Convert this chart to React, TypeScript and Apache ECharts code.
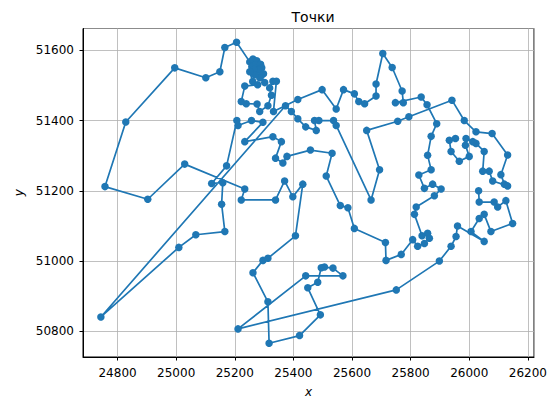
import React, { useEffect, useRef } from "react";
import * as echarts from "echarts";

const title = "Точки";
const xName = "x";
const yName = "y";

// Path of points, in drawing order
const xs = [
  26032, 26034, 26085, 26097, 26125, 26148, 26074, 26051, 26034, 26006,
  26051, 25960, 25955, 25938, 25898, 25751, 25211, 25442, 25569, 25535,
  25506, 25495, 25483, 25449, 25492, 25421, 25317, 25313, 25262, 25296,
  25313, 25407, 25432, 25398, 25370, 25339, 25222, 25234, 25029, 24903,
  24757, 24828, 24995, 25101, 25149, 25166, 25206, 25251, 25262, 25275,
  25258, 25271, 25288, 25292, 25281, 25265, 25298, 25290, 25302, 25285,
  25268, 25251, 25261, 25278, 25234, 25222, 25239, 25276, 25285, 25313,
  25325, 25319, 25330, 25342, 25332, 25415, 25498, 25546, 25571, 25608,
  25623, 25643, 25682, 25682, 25705, 25737, 25771, 25775, 25748, 25836,
  25856, 25889, 25870, 25858, 25870, 25828, 25847, 25875, 25904, 25881,
  25819, 25813, 25839, 25858, 25864, 25847, 25824, 25807, 25768, 25716,
  25714, 25608, 25586, 25560, 25512, 25532, 25458, 25378, 25364, 25339,
  25359, 25330, 25234, 25296, 25257, 25211, 25207, 25172, 25121, 25159,
  25155, 25166, 25067, 25009, 24743, 25373, 25393, 25415, 25442, 25478,
  25472, 25487, 25537, 25546, 25665, 25694, 25650, 25756, 25794, 25941,
  25983, 26023, 26078, 26131, 26108, 26120, 26131, 26080, 26068, 26046,
  26051, 26023, 26012, 25989, 25987, 26000, 25966, 25938, 25932, 25953,
];
const ys = [
  51200, 51168, 51168, 51154, 51172, 51107, 51084, 51133, 51121, 51084,
  51056, 51100, 51070, 51042, 51000, 50918, 50807, 50958, 50958, 50980,
  50983, 50981, 50940, 50924, 50847, 50788, 50766, 50884, 50967, 51002,
  51008, 51072, 51219, 51183, 51228, 51174, 51174, 51205, 51276, 51176,
  51212, 51396, 51550, 51522, 51539, 51608, 51623, 51567, 51575, 51570,
  51553, 51558, 51560, 51550, 51544, 51545, 51533, 51528, 51508, 51522,
  51530, 51539, 51511, 51502, 51498, 51454, 51448, 51447, 51426, 51442,
  51472, 51493, 51512, 51512, 51426, 51460, 51488, 51433, 51488, 51476,
  51454, 51448, 51470, 51504, 51591, 51551, 51484, 51451, 51451, 51467,
  51445, 51391, 51355, 51301, 51260, 51245, 51207, 51219, 51205, 51186,
  51154, 51133, 51072, 51079, 51065, 51050, 51042, 51061, 51019, 51002,
  51053, 51093, 51152, 51158, 51242, 51307, 51316, 51298, 51279, 51293,
  51340, 51354, 51340, 51395, 51400, 51386, 51400, 51271, 51221, 51223,
  51162, 51084, 51075, 51039, 50841, 51442, 51426, 51405, 51382, 51372,
  51400, 51400, 51400, 51386, 51174, 51260, 51372, 51398, 51411, 51458,
  51400, 51368, 51363, 51302, 51246, 51219, 51214, 51228, 51256, 51256,
  51312, 51335, 51340, 51349, 51330, 51298, 51284, 51312, 51344, 51349,
];

const xMin = 24682;
const xMax = 26221;
const yMin = 50727;
const yMax = 51662;

export default function App() {
  const ref = useRef<HTMLDivElement>(null);
  useEffect(() => {
    if (!ref.current) return;
    const chart = echarts.init(ref.current, undefined, { renderer: "svg" });
    const data = xs.map((x, i) => [x, ys[i]]);
    const font = "DejaVu Sans";
    chart.setOption({
      animation: false,
      backgroundColor: "#ffffff",
      title: {
        text: title,
        left: 308,
        textAlign: "center",
        top: 5,
        textStyle: { fontFamily: font, fontSize: 14, fontWeight: "normal", color: "#000" },
      },
      grid: {
        left: 83,
        right: 24,
        top: 28.5,
        bottom: 40,
        show: true,
        borderColor: "#000",
        borderWidth: 1,
        backgroundColor: "transparent",
      },
      xAxis: {
        type: "value",
        min: xMin,
        max: xMax,
        splitNumber: 8,
        name: xName,
        nameLocation: "middle",
        nameGap: 29,
        nameTextStyle: { fontFamily: font, fontSize: 12, fontStyle: "italic", color: "#000" },
        axisLine: { show: true, onZero: false, lineStyle: { color: "#000", width: 1 } },
        axisTick: { show: true, length: 3.5, lineStyle: { color: "#000" } },
        axisLabel: {
          fontFamily: font,
          fontSize: 12,
          color: "#000",
          margin: 10,
          showMinLabel: false,
          showMaxLabel: false,
          formatter: (v: number) => String(Math.round(v)),
        },
        splitLine: { show: true, lineStyle: { color: "#b0b0b0", width: 0.8 } },
      },
      yAxis: {
        type: "value",
        min: yMin,
        max: yMax,
        splitNumber: 5,
        name: yName,
        nameLocation: "middle",
        nameGap: 57,
        nameTextStyle: { fontFamily: font, fontSize: 12, fontStyle: "italic", color: "#000" },
        axisLine: { show: true, onZero: false, lineStyle: { color: "#000", width: 1 } },
        axisTick: { show: true, length: 3.5, lineStyle: { color: "#000" } },
        axisLabel: {
          fontFamily: font,
          fontSize: 12,
          color: "#000",
          margin: 9,
          showMinLabel: false,
          showMaxLabel: false,
          formatter: (v: number) => String(Math.round(v)),
        },
        splitLine: { show: true, lineStyle: { color: "#b0b0b0", width: 0.8 } },
      },
      series: [
        {
          type: "line",
          data,
          symbol: "circle",
          symbolSize: 7.5,
          showAllSymbol: true,
          itemStyle: { color: "#1f77b4" },
          lineStyle: { color: "#1f77b4", width: 1.7 },
        },
      ],
    });
    return () => chart.dispose();
  }, []);
  return (
    <div
      ref={ref}
      style={{ position: "fixed", left: 0, top: 0, width: 558, height: 403 }}
    />
  );
}
